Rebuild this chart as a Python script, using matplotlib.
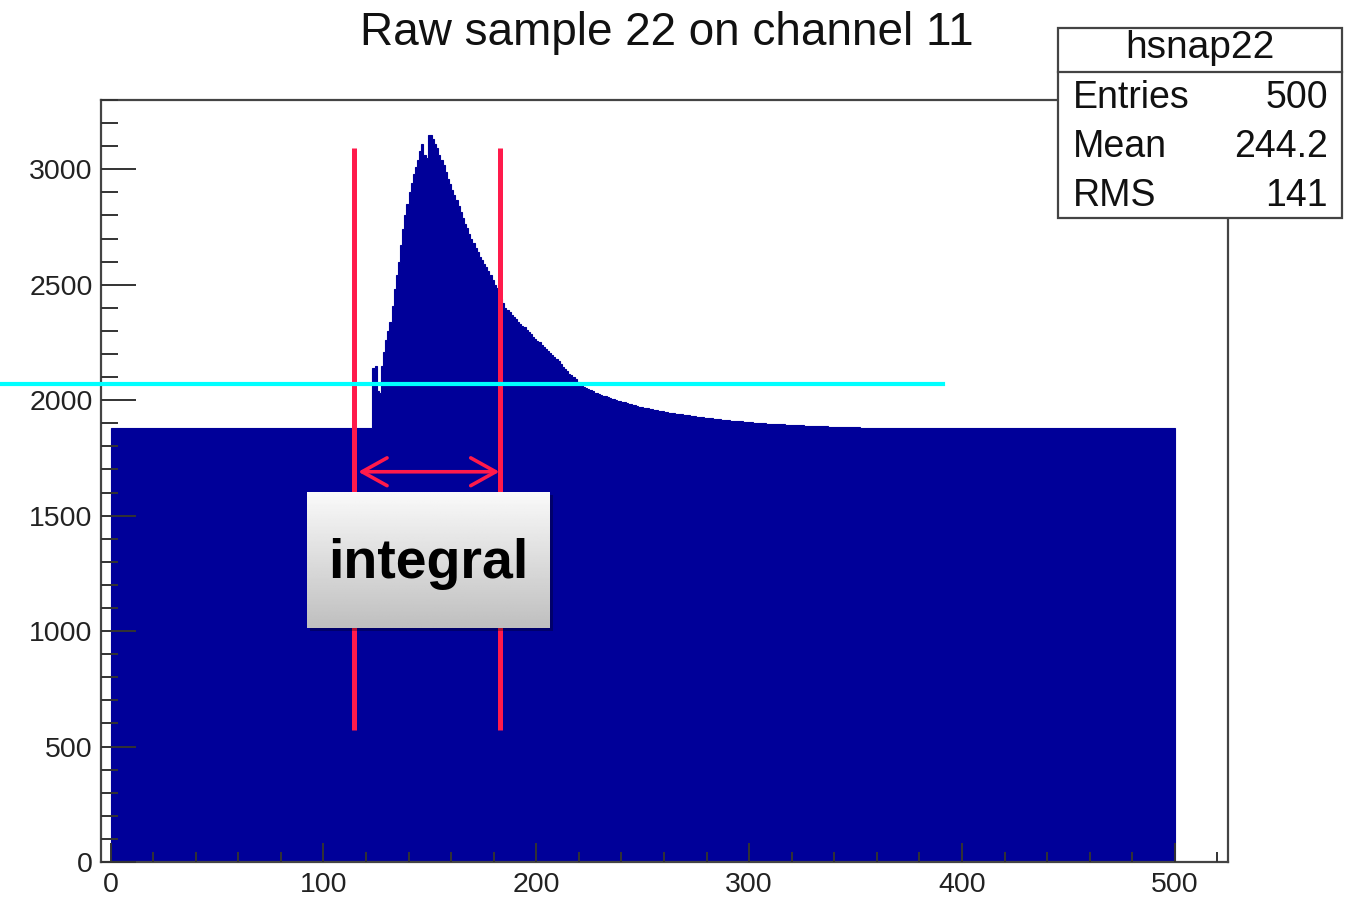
import numpy as np
import matplotlib.pyplot as plt
from matplotlib.patches import Rectangle
from matplotlib.ticker import MultipleLocator

plt.rcParams["font.family"] = ["Liberation Sans", "DejaVu Sans"]

# raw ADC snapshot, one value per sample (500 samples, unit-wide bins)
baseline_before = [1880] * 123
pulse = [
    2140, 2150, 2040, 2030, 2150, 2210, 2260, 2300, 2340, 2410,  # 123-132
    2480, 2540, 2600, 2670, 2740, 2800, 2850, 2900, 2940, 2980,  # 133-142
    3010, 3040, 3080, 3110, 3060, 3050, 3150, 3150, 3130, 3110,  # 143-152
    3090, 3060, 3040, 3020, 2990, 2960, 2935, 2910, 2890, 2865,  # 153-162
    2840, 2815, 2790, 2765, 2745, 2720, 2700, 2680, 2660, 2640,  # 163-172
    2620, 2605, 2590, 2575, 2560, 2540, 2520, 2500, 2485, 2465,  # 173-182
    2440, 2420, 2400, 2390, 2380, 2370, 2360, 2350, 2340, 2330,  # 183-192
    2320, 2315, 2305, 2295, 2285, 2275, 2265, 2257, 2250, 2240,  # 193-202
    2230, 2222, 2212, 2204, 2195, 2186, 2177, 2168, 2155, 2145,  # 203-212
    2135, 2125, 2115, 2108, 2100, 2090, 2080, 2072, 2065, 2058,  # 213-222
    2052, 2047, 2042, 2038, 2033, 2030, 2026, 2022, 2019, 2016,  # 223-232
    2013, 2010, 2007, 2004, 2001, 1998, 1995, 1992, 1990, 1988,  # 233-242
    1985, 1982, 1980, 1977, 1975, 1972, 1970, 1968, 1966, 1964,  # 243-252
    1962, 1960, 1958, 1956, 1954, 1953, 1951, 1949, 1948, 1946,  # 253-262
    1945, 1943, 1942, 1940, 1939, 1938, 1936, 1935, 1934, 1932,  # 263-272
    1931, 1930, 1929, 1927, 1926, 1925, 1924, 1923, 1922, 1921,  # 273-282
    1920, 1919, 1918, 1917, 1916, 1915, 1914, 1913, 1912, 1911,  # 283-292
    1910, 1910, 1909, 1908, 1907, 1906, 1905, 1905, 1904, 1903,  # 293-302
    1902, 1902, 1901, 1900, 1900, 1899, 1898, 1898, 1897, 1897,  # 303-312
    1896, 1896, 1895, 1895, 1894, 1894, 1893, 1893, 1892, 1892,  # 313-322
    1891, 1891, 1891, 1890, 1890, 1889, 1889, 1889, 1888, 1888,  # 323-332
    1888, 1887, 1887, 1887, 1886, 1886, 1886, 1885, 1885, 1885,  # 333-342
    1884, 1884, 1884, 1883, 1883, 1883, 1882, 1882, 1882, 1881,  # 343-352
    1881, 1881,                                                  # 353-354
]
baseline_after = [1880] * (500 - len(baseline_before) - len(pulse))

title = "Raw sample 22 on channel 11"
stats_name = "hsnap22"
stats_labels = ["Entries", "Mean", "RMS"]
stats_values = ["500", "244.2", "141"]

window_lo, window_hi = 114.6, 183.1   # integration window (samples)
window_ymin, window_ymax = 570, 3090
threshold = 2068

counts = np.array(baseline_before + pulse + baseline_after, dtype=float)
edges = np.arange(len(counts) + 1)

W, H = 1350, 897
fig = plt.figure(figsize=(W / 100, H / 100), dpi=100)


def fx(px):
    return px / W


def fy(py):
    return 1 - py / H


ax = fig.add_axes([fx(101), fy(862), fx(1228) - fx(101), fy(100) - fy(862)])
ax.stairs(counts, edges, fill=True, facecolor="#000099", edgecolor="#000099",
          lw=0.8)
ax.set_xlim(-4.5, 525)
ax.set_ylim(0, 3300)
ax.set_axisbelow(False)

for s in ax.spines.values():
    s.set_color("#444444")
    s.set_linewidth(1.6)

ax.xaxis.set_major_locator(MultipleLocator(100))
ax.xaxis.set_minor_locator(MultipleLocator(20))
ax.yaxis.set_major_locator(MultipleLocator(500))
ax.yaxis.set_minor_locator(MultipleLocator(100))
ax.tick_params(axis="y", which="major", direction="in", length=25, width=1.4,
               color="#333333", labelsize=20.5, labelcolor="#222222", pad=6)
ax.tick_params(axis="y", which="minor", direction="in", length=12, width=1.4,
               color="#333333")
ax.tick_params(axis="x", which="major", direction="in", length=14, width=1.4,
               color="#333333", labelsize=20.5, labelcolor="#222222", pad=7)
ax.tick_params(axis="x", which="minor", direction="in", length=7, width=1.4,
               color="#333333")

# integration window markers
red = "#FF1A4B"
for xv in (window_lo, window_hi):
    ax.plot([xv, xv], [window_ymin, window_ymax], color=red, lw=3.6,
            solid_capstyle="butt", zorder=3)
ax.annotate("", xy=(window_lo + 1.8, 1690), xytext=(window_hi - 0.4, 1690),
            arrowprops=dict(arrowstyle="<->,head_length=0.9,head_width=0.5",
                            color=red, lw=2.6, shrinkA=0, shrinkB=0,
                            mutation_scale=20),
            zorder=3)

# threshold line, runs past the frame to the left edge
ax.plot([-52, 391], [threshold, threshold], color="#00FFFF", lw=3,
        clip_on=False, zorder=4)

fig.text(fx(667), fy(33), title, ha="center", va="center", fontsize=33,
         color="#111111")

# stats box
bx0, by0, bx1, by1 = 1058, 28, 1342, 218
fig.add_artist(Rectangle((fx(bx0), fy(by1)), fx(bx1) - fx(bx0), fy(by0) - fy(by1),
                         transform=fig.transFigure, facecolor="white",
                         edgecolor="#444444", lw=1.6, zorder=1))
fig.add_artist(plt.Line2D([fx(bx0), fx(bx1)], [fy(72), fy(72)],
                          transform=fig.transFigure, color="#444444", lw=1.6,
                          zorder=1.1))
fig.text(fx(1200), fy(48), stats_name, ha="center", va="center", fontsize=28,
         color="#111111")
for row, (lab, val) in enumerate(zip(stats_labels, stats_values)):
    yrow = 98 + row * 49
    fig.text(fx(1073), fy(yrow), lab, ha="left", va="center", fontsize=27,
             color="#111111")
    fig.text(fx(1328), fy(yrow), val, ha="right", va="center", fontsize=27,
             color="#111111")

# "integral" label box with gradient and soft shadow
lx0, ly0, lx1, ly1 = 307, 492, 550, 628
fig.add_artist(Rectangle((fx(lx0 + 3), fy(ly1 + 3)), fx(lx1) - fx(lx0),
                         fy(ly0) - fy(ly1), transform=fig.transFigure,
                         facecolor=(0, 0, 0, 0.3), lw=0, zorder=1))
lab_ax = fig.add_axes([fx(lx0), fy(ly1), fx(lx1) - fx(lx0), fy(ly0) - fy(ly1)])
lab_ax.set_zorder(2)
grad = np.linspace(0.98, 0.75, 100)[:, None]
lab_ax.imshow(grad, cmap="gray", vmin=0, vmax=1, aspect="auto",
              extent=(0, 1, 0, 1), interpolation="bilinear")
lab_ax.set_axis_off()
lab_ax.text(0.5, 0.47, "integral", ha="center", va="center", fontsize=40,
            fontweight="bold", color="black", transform=lab_ax.transAxes)

fig.savefig("out.png", dpi=100)
